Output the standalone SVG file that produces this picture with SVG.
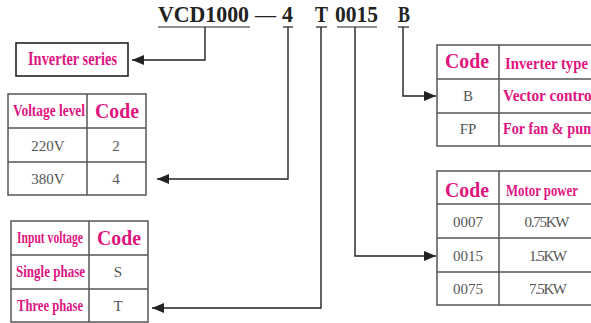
<svg xmlns="http://www.w3.org/2000/svg" width="591" height="323" viewBox="0 0 591 323">
<style>
.title{font-family:"Liberation Serif",serif;font-weight:bold;font-size:24px;fill:#222}
.pk{font-family:"Liberation Serif",serif;font-weight:bold;fill:#e0147f;font-size:17px}
.code{font-family:"Liberation Serif",serif;font-weight:bold;fill:#e0147f;font-size:20px}
.val{font-family:"Liberation Serif",serif;fill:#555;font-size:15px;text-anchor:middle}
.tb{fill:#fff;stroke:#555;stroke-width:1.5}
.ln{stroke:#555;stroke-width:1.5;fill:none}
.con{stroke:#222;stroke-width:1.4;fill:none}
.ul{stroke:#222;stroke-width:1.2}
</style>
<defs>
<marker id="ah" markerUnits="userSpaceOnUse" markerWidth="12" markerHeight="10" viewBox="0 0 12 10" refX="12" refY="5" orient="auto">
<path d="M0 0 L12 5 L0 10 Z" fill="#222"/>
</marker>
</defs>

<g id="title">
<text class="title" x="158" y="22" textLength="91" lengthAdjust="spacingAndGlyphs">VCD1000</text>
<text class="title" x="255" y="22" textLength="21" lengthAdjust="spacingAndGlyphs" style="font-weight:normal">—</text>
<text class="title" x="282" y="22" textLength="11" lengthAdjust="spacingAndGlyphs">4</text>
<text class="title" x="315" y="22" textLength="13" lengthAdjust="spacingAndGlyphs">T</text>
<text class="title" x="335" y="22" textLength="43" lengthAdjust="spacingAndGlyphs">0015</text>
<text class="title" x="398" y="22" textLength="12" lengthAdjust="spacingAndGlyphs">B</text>
<line class="ul" x1="158" y1="27" x2="250" y2="27"/>
<line class="ul" x1="283" y1="27" x2="293" y2="27"/>
<line class="ul" x1="316" y1="27" x2="327" y2="27"/>
<line class="ul" x1="337" y1="27" x2="377" y2="27"/>
<line class="ul" x1="398" y1="27" x2="409" y2="27"/>
</g>

<g id="connectors">
<path class="con" d="M205 27 V60 H132" marker-end="url(#ah)"/>
<path class="con" d="M288 27 V179 H157" marker-end="url(#ah)"/>
<path class="con" d="M321 27 V308 H152" marker-end="url(#ah)"/>
<path class="con" d="M355 27 V256 H436" marker-end="url(#ah)"/>
<path class="con" d="M403 27 V96 H436" marker-end="url(#ah)"/>
</g>

<g id="inverter-series">
<rect x="16" y="43" width="112" height="33" fill="#fff" stroke="#222" stroke-width="1.6"/>
<text class="pk" x="28" y="65" textLength="89" lengthAdjust="spacingAndGlyphs" style="font-size:18px">Inverter series</text>
</g>

<g id="voltage-table">
<rect class="tb" x="8" y="94" width="138" height="101"/>
<path class="ln" d="M87 94 V195 M8 128 H146 M8 162 H146"/>
<text class="pk" x="13" y="116" textLength="72" lengthAdjust="spacingAndGlyphs">Voltage level</text>
<text class="code" x="95" y="118" textLength="44" lengthAdjust="spacingAndGlyphs">Code</text>
<text class="val" x="48" y="151">220V</text>
<text class="val" x="116" y="151">2</text>
<text class="val" x="48" y="184">380V</text>
<text class="val" x="116" y="184">4</text>
</g>

<g id="input-table">
<rect class="tb" x="11" y="221" width="137" height="101"/>
<path class="ln" d="M89 221 V322 M11 255 H148 M11 289 H148"/>
<text class="pk" x="17" y="243" textLength="66" lengthAdjust="spacingAndGlyphs">Input voltage</text>
<text class="code" x="97" y="245" textLength="44" lengthAdjust="spacingAndGlyphs">Code</text>
<text class="pk" x="16" y="277" textLength="69" lengthAdjust="spacingAndGlyphs">Single phase</text>
<text class="val" x="118" y="277">S</text>
<text class="pk" x="17" y="311" textLength="66" lengthAdjust="spacingAndGlyphs">Three phase</text>
<text class="val" x="118" y="311">T</text>
</g>

<g id="type-table">
<rect class="tb" x="437" y="45" width="200" height="101"/>
<path class="ln" d="M499 45 V146 M437 79 H637 M437 113 H637"/>
<text class="code" x="445" y="68" textLength="44" lengthAdjust="spacingAndGlyphs">Code</text>
<text class="pk" x="505" y="69" textLength="83" lengthAdjust="spacingAndGlyphs">Inverter type</text>
<text class="val" x="468" y="101">B</text>
<text class="pk" x="503" y="101" textLength="93" lengthAdjust="spacingAndGlyphs">Vector control</text>
<text class="val" x="468" y="134">FP</text>
<text class="pk" x="503" y="134" textLength="100" lengthAdjust="spacingAndGlyphs">For fan &amp; pump</text>
</g>

<g id="power-table">
<rect class="tb" x="437" y="171" width="200" height="134"/>
<path class="ln" d="M499 171 V305 M437 204 H637 M437 238 H637 M437 272 H637"/>
<text class="code" x="445" y="197" textLength="44" lengthAdjust="spacingAndGlyphs">Code</text>
<text class="pk" x="506" y="196" textLength="72" lengthAdjust="spacingAndGlyphs">Motor power</text>
<text class="val" x="468" y="227">0007</text>
<text class="val" x="547" y="227" textLength="45" lengthAdjust="spacing">0.75KW</text>
<text class="val" x="468" y="261">0015</text>
<text class="val" x="548" y="261" textLength="38" lengthAdjust="spacing">1.5KW</text>
<text class="val" x="468" y="294">0075</text>
<text class="val" x="548" y="294" textLength="38" lengthAdjust="spacing">7.5KW</text>
</g>
</svg>
